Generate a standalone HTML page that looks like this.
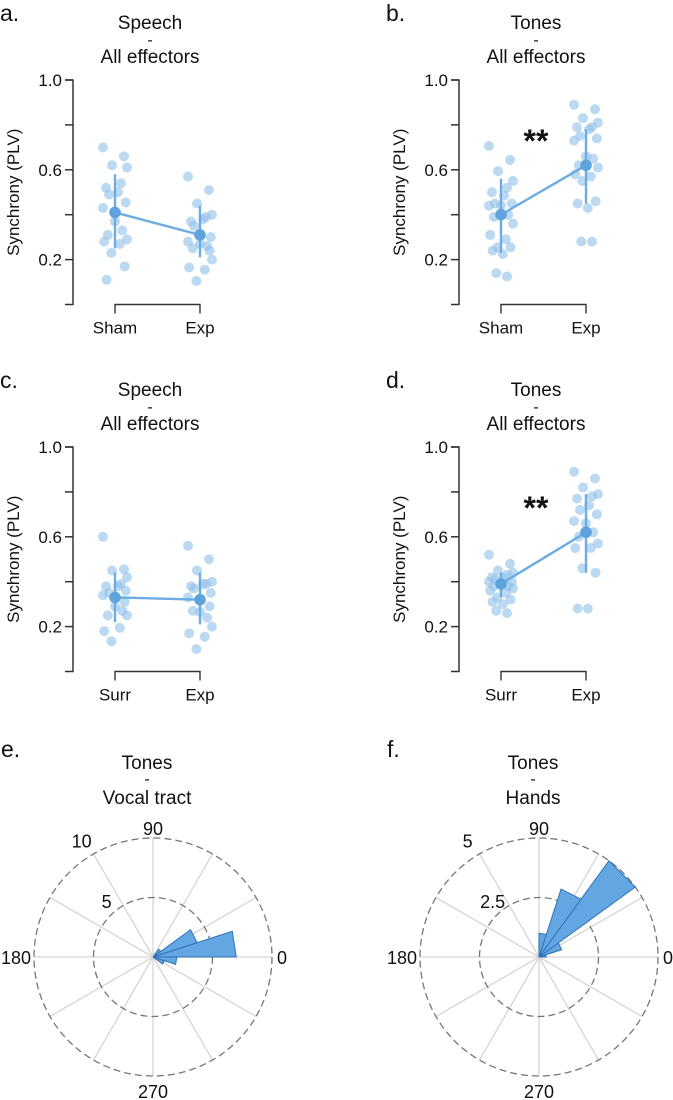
<!DOCTYPE html>
<html><head><meta charset="utf-8"><style>
html,body{margin:0;padding:0;background:#fff}
svg{display:block;font-family:"Liberation Sans",Arial,sans-serif}
</style></head><body>
<svg id="fig" width="673" height="1100" viewBox="0 0 673 1100"></svg>
<script>
// ---- data ----
const yTicks=[0.2,0.6,1.0];
const aSham=[0.70,0.66,0.62,0.61,0.54,0.52,0.50,0.49,0.455,0.43,0.37,0.33,0.31,0.29,0.28,0.27,0.23,0.17,0.11];
const aExp=[0.57,0.51,0.45,0.40,0.39,0.37,0.38,0.35,0.30,0.28,0.27,0.26,0.25,0.20,0.165,0.155,0.105,0.24];
const aStats=[[0.41,0.25,0.58],[0.31,0.21,0.44]];
const bSham=[0.706,0.644,0.594,0.55,0.52,0.50,0.485,0.45,0.45,0.44,0.44,0.40,0.39,0.36,0.31,0.29,0.255,0.255,0.24,0.225,0.14,0.125];
const bExp=[0.89,0.87,0.83,0.81,0.79,0.79,0.78,0.75,0.74,0.73,0.66,0.65,0.62,0.61,0.58,0.57,0.55,0.46,0.45,0.43,0.28,0.28];
const bStats=[[0.40,0.23,0.56],[0.62,0.45,0.78]];
const cSurr=[0.60,0.455,0.45,0.42,0.39,0.38,0.38,0.35,0.36,0.34,0.29,0.27,0.25,0.25,0.18,0.195,0.135,0.31];
const cExp=[0.56,0.50,0.45,0.40,0.39,0.38,0.39,0.37,0.35,0.33,0.265,0.24,0.27,0.20,0.17,0.155,0.10,0.29];
const cStats=[[0.33,0.22,0.44],[0.32,0.21,0.44]];
const dSurr=[0.52,0.48,0.45,0.44,0.43,0.42,0.42,0.41,0.40,0.40,0.39,0.38,0.38,0.37,0.36,0.35,0.33,0.32,0.31,0.30,0.27,0.26];
const dExp=[0.89,0.86,0.82,0.79,0.78,0.77,0.74,0.72,0.70,0.67,0.66,0.62,0.60,0.57,0.55,0.55,0.46,0.44,0.28,0.28];
const dStats=[[0.39,0.33,0.44],[0.62,0.44,0.79]];
const jitter=[-0.2,0.15,-0.05,0.2,0.1,-0.15,0.05,-0.1,0.18,-0.2,0.0,0.12,-0.12,0.2,-0.18,0.08,-0.06,0.16,-0.14,0.03,-0.08,0.1];
const binEdges=[0,18,36,54,72,90,108,126,144,162,180,198,216,234,252,270,288,306,324,342];
const eCounts=[7,3.9,0.8,0,0,0,0,0,0,0,0,0,0,0,0,0,0,0,1,2];
const fCounts=[0.3,1,5,3,1,0,0,0,0,0,0,0,0,0,0,0,0,0,0,0];

const NS="http://www.w3.org/2000/svg";
const svg=document.getElementById('fig');
function el(tag,attrs,parent){const e=document.createElementNS(NS,tag);for(const k in attrs)e.setAttribute(k,attrs[k]);(parent||svg).appendChild(e);return e;}
function txt(x,y,s,size,anchor,parent){const t=el('text',{x:x,y:y,'font-size':size,'text-anchor':anchor||'middle',fill:'#111'},parent);t.textContent=s;return t;}

function panel(name,letter,title1,title2,axX,top,cats,groups,stats,star){
  const g=el('g',{});
  
  
  const y0=top, h=224.5;
  const ys=v=>y0+(1-v)*h;
  const xs=[axX+42,axX+127];
  const cx=axX+77;
  const L=txt(axX-73,top-59,letter,23,'start',g);
  
  const t1=txt(cx,top-51,title1,19,'middle',g);
  
  txt(cx,top-35,'-',16,'middle',g);
  const t2=txt(cx,top-17,title2,19,'middle',g);
  
  const ax=el('path',{d:`M${axX-8},${ys(1)}H${axX}V${ys(0)}H${axX-8}`,stroke:'#333','stroke-width':1.5,fill:'none'},g);
  
  [0.8,0.4].forEach(v=>el('line',{x1:axX-8,x2:axX,y1:ys(v),y2:ys(v),stroke:'#333','stroke-width':1.5},g));
  yTicks.forEach(v=>{el('line',{x1:axX-8,x2:axX,y1:ys(v),y2:ys(v),stroke:'#333','stroke-width':1.5},g);
    const tl=txt(axX-11,ys(v)+6,v.toFixed(1),17,'end',g);
    });
  const yl=txt(0,0,'Synchrony (PLV)',17,'middle',g);
  yl.setAttribute('transform',`translate(${axX-54},${ys(0.5)}) rotate(-90)`);
  
  const br=el('path',{d:`M${xs[0]},${ys(0)+9}V${ys(0)}H${xs[1]}V${ys(0)+9}`,stroke:'#333','stroke-width':1.4,fill:'none'},g);
  
  cats.forEach((c,i)=>{const t=txt(xs[i],ys(0)+29,c,17,'middle',g);
    });
  groups.forEach((arr,i)=>arr.forEach((v,j)=>{
    const d=el('circle',{cx:xs[i]+jitter[j%jitter.length]*60,cy:ys(v),r:5,fill:'#8fc0ea','fill-opacity':0.6},g);
    
  }));
  const ln=el('line',{x1:xs[0],y1:ys(stats[0][0]),x2:xs[1],y2:ys(stats[1][0]),stroke:'#6badE2','stroke-width':2.4},g);
  
  stats.forEach((s,i)=>{
    const eb=el('line',{x1:xs[i],x2:xs[i],y1:ys(s[1]),y2:ys(s[2]),stroke:'#6badE2','stroke-width':2.4},g);
    
    const m=el('circle',{cx:xs[i],cy:ys(s[0]),r:5.8,fill:'#5fa3dc'},g);
    
  });
  if(star){const s=txt(cx,ys(0.75)+16,'**',32,'middle',g);
    s.setAttribute('font-weight','bold');
    }
}
panel('panel-a','a.','Speech','All effectors',73,80,['Sham','Exp'],[aSham,aExp],aStats,false);
panel('panel-b','b.','Tones','All effectors',459,80,['Sham','Exp'],[bSham,bExp],bStats,true);
panel('panel-c','c.','Speech','All effectors',73,447,['Surr','Exp'],[cSurr,cExp],cStats,false);
panel('panel-d','d.','Tones','All effectors',459,447,['Surr','Exp'],[dSurr,dExp],dStats,true);

function polar(name,letter,title,cx,cy,R,maxV,counts,outerLab,innerLab){
  const g=el('g',{});
  
  
  const L=txt(cx-152,757,letter,23,'start',g);
  
  const t1=txt(cx-6,769,'Tones',19,'middle',g);
  
  txt(cx-6,784,'-',16,'middle',g);
  const t2=txt(cx-6,804,title,19,'middle',g);
  
  for(let a=0;a<360;a+=30){const r=a*Math.PI/180;
    el('line',{x1:cx,y1:cy,x2:cx+R*Math.cos(r),y2:cy-R*Math.sin(r),stroke:'#d6d6d6','stroke-width':1.3},g);}
  [R,R/2].forEach(r=>{const c=el('circle',{cx:cx,cy:cy,r:r,fill:'none',stroke:'#777','stroke-width':1.3,'stroke-dasharray':'7,4'},g);
    });
  counts.forEach((v,i)=>{if(v<=0)return;
    const a0=binEdges[i]*Math.PI/180,a1=(binEdges[i]+18)*Math.PI/180,r=v/maxV*R;
    const p=el('path',{d:`M${cx},${cy}L${cx+r*Math.cos(a0)},${cy-r*Math.sin(a0)}L${cx+r*Math.cos(a1)},${cy-r*Math.sin(a1)}Z`,fill:'#62a6e2',stroke:'#2f72b8','stroke-width':1},g);
    
  });
  [['90',cx,cy-R-3,'middle'],['0',cx+R+5,cy+7,'start'],['180',cx-R-3,cy+7,'end'],['270',cx,cy+R+22,'middle']].forEach(a=>{
    const t=txt(a[1],a[2],a[0],18,a[3],g);});
  const o=txt(cx-R*0.6,cy-R*0.92,outerLab,18,'middle',g);
  
  const n=txt(cx-R*0.39,cy-R*0.41,innerLab,18,'middle',g);
  
}
polar('panel-e','e.','Vocal tract',153,957,119,10,eCounts,'10','5');
polar('panel-f','f.','Hands',539,957,119,5,fCounts,'5','2.5');
</script>
</body></html>
